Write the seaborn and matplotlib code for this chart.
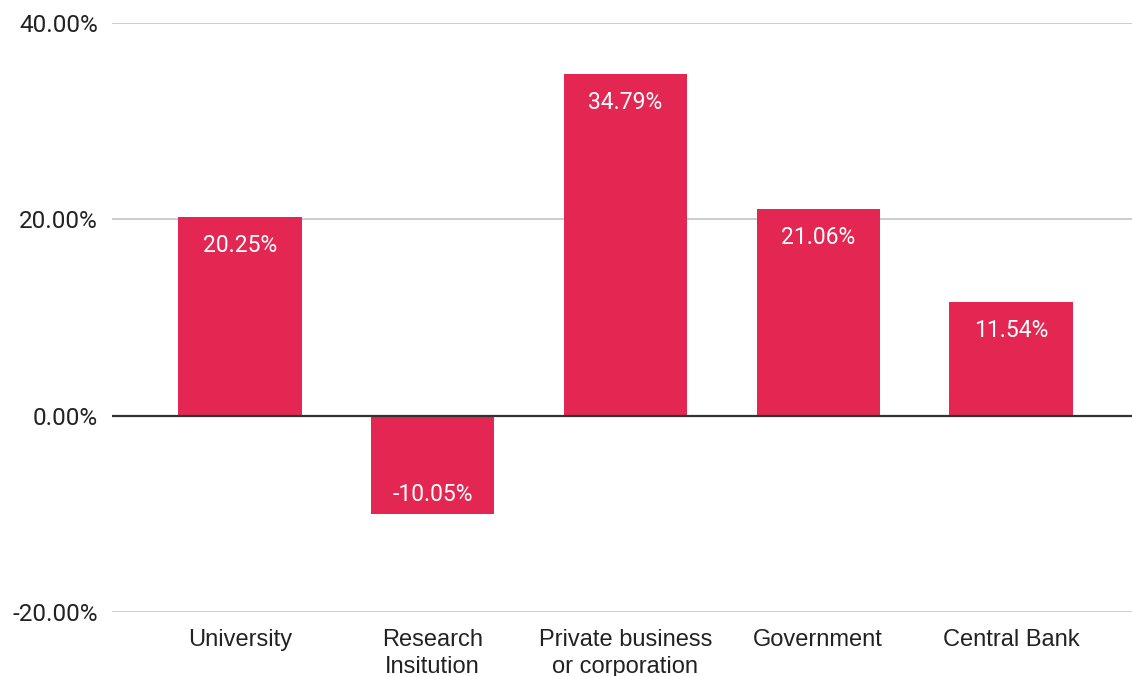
import matplotlib
matplotlib.use("Agg")
import matplotlib.pyplot as plt
import seaborn as sns
import pandas as pd
from matplotlib.ticker import FuncFormatter

categories = ["University", "Research\nInsitution", "Private business\nor corporation", "Government", "Central Bank"]
values = [20.25, -10.05, 34.79, 21.06, 11.54]
yticks = [-20, 0, 20, 40]

sns.set_theme(style="white")
plt.rcParams['font.family'] = ['Roboto', 'DejaVu Sans']

df = pd.DataFrame({"cat": categories, "val": values})

fig = plt.figure(figsize=(11.32, 6.76), dpi=100)
ax = fig.add_axes([112/1132, 1 - 612/676, 1 - 112/1132, (612 - 23)/676])
ax.set_axisbelow(True)

sns.barplot(data=df, x="cat", y="val", color="#E32752", width=0.64, saturation=1,
            linewidth=0, ax=ax)
for p in ax.patches:
    p.set_zorder(3)

ax.set_ylim(-20, 40)
ax.set_xlim(-0.664, 4.628)
ax.set_yticks(yticks)
ax.yaxis.set_major_formatter(FuncFormatter(lambda v, p: f"{v:.2f}%"))
ax.grid(axis="y", color="#cccccc", linewidth=1.4)
ax.axhline(0, color="#333333", linewidth=1.6, zorder=4)
for s in ax.spines.values():
    s.set_visible(False)
ax.tick_params(axis="both", length=0)
ax.tick_params(axis="y", pad=10, labelsize=17.5, labelcolor="#222222")
ax.tick_params(axis="x", pad=12, labelsize=17, labelcolor="#222222")
for lab in ax.get_xticklabels():
    lab.set_family(['Liberation Sans', 'DejaVu Sans'])
    lab.set_linespacing(1.3)
ax.set_xlabel("")
ax.set_ylabel("")

for p in ax.patches:
    h = p.get_height()
    xc = p.get_x() + p.get_width() / 2
    off = -20.5 if h >= 0 else 14.5
    ax.annotate(f"{h:.2f}%", (xc, h), xytext=(0, off), textcoords="offset points",
                ha="center", va="center", color="white", fontsize=16.5, zorder=5)

fig.savefig("out.png", dpi=100)
